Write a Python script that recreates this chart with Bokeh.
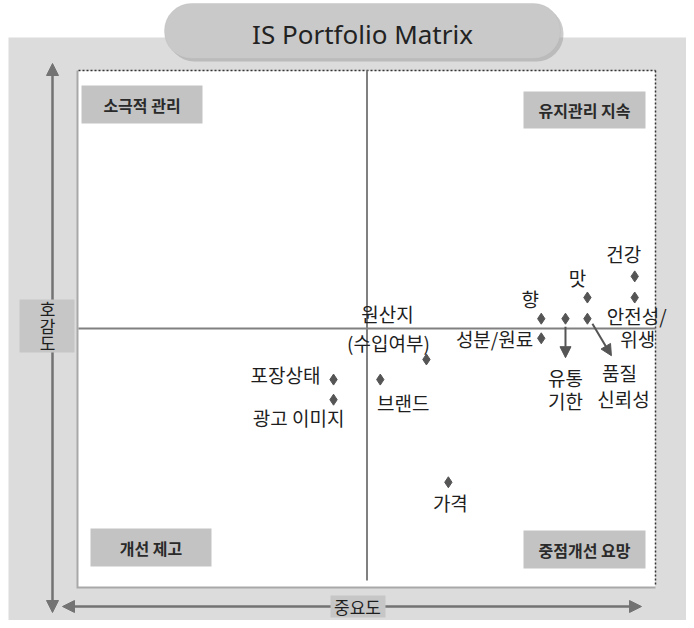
from bokeh.plotting import figure
from bokeh.models import Range1d, BoxAnnotation, Arrow, NormalHead, Label
from bokeh.core.properties import value
from bokeh.embed import file_html
from bokeh.resources import INLINE

# ---------------- data ----------------
title_text = "IS Portfolio Matrix"
x_title = "중요도"
y_title = "호감도"
quadrants = ["소극적 관리", "유지관리 지속", "개선 제고", "중점개선 요망"]
items = ["건강", "안전성/위생", "맛", "향", "유통기한", "품질 신뢰성",
         "성분/원료", "원산지(수입여부)", "포장상태", "광고 이미지", "브랜드", "가격"]
importance = [96.4, 96.4, 88.2, 80.2, 84.4, 88.2, 80.2, 60.3, 44.2, 44.2, 52.3, 64.1]
favorability = [60.1, 56.0, 56.0, 51.9, 51.9, 51.9, 48.1, 44.0, 40.1, 36.2, 40.1, 20.2]
x_mid = 50
y_mid = 50
x_lim = (0, 100)
y_lim = (0, 100)

# ---------------- layout (picture pixels) ----------------
W, H = 686, 620
OFF = 0
FL, FR, FT, FB = 78, 655, 70, 586
sx = (FR - FL) / (x_lim[1] - x_lim[0])
sy = (FB - FT) / (y_lim[1] - y_lim[0])


def X(px):
    return x_lim[0] + (px - FL) / sx


def Y(py):
    return y_lim[0] + (FB - py) / sy


def DX(dpx):
    return dpx / sx


def DY(dpy):
    return -dpy / sy


FONT = value("Noto Sans CJK KR")
TXT = "#1e1e1e"

p = figure(width=W, height=H,
           x_range=Range1d(X(OFF), X(OFF + W)),
           y_range=Range1d(Y(OFF + H), Y(OFF)),
           output_backend="svg", toolbar_location=None,
           x_axis_location=None, y_axis_location=None,
           min_border=0, outline_line_color=None,
           background_fill_color="white", border_fill_color="white")
p.xgrid.visible = False
p.ygrid.visible = False

# gray panel
p.quad(left=X(8), right=X(700), top=Y(37), bottom=Y(640),
       fill_color="#dcdcdc", line_color=None)
# white plotting panel with shadowed left/bottom border
p.quad(left=X(FL - 2), right=X(FR), top=Y(FT), bottom=Y(FB + 2),
       fill_color="#a8a8a8", line_color=None)
p.quad(left=x_lim[0], right=x_lim[1], top=y_lim[1], bottom=y_lim[0],
       fill_color="white", line_color=None)
p.segment(x0=[x_lim[0], x_lim[1]], y0=[y_lim[1], y_lim[1]],
          x1=[x_lim[1], x_lim[1]], y1=[y_lim[1], y_lim[0]],
          line_color="#333333", line_width=1.5, line_dash="2 2")

# quadrant label boxes
qb_left = [X(81), X(523), X(90), X(523)]
qb_right = [X(202), X(645), X(211), X(645)]
qb_top = [Y(85), Y(91), Y(528), Y(530)]
qb_bottom = [Y(123), Y(128), Y(566), Y(568)]
p.quad(left=qb_left, right=qb_right, top=qb_top, bottom=qb_bottom,
       fill_color="#c3c3c3", line_color=None)
p.text(x=[(a + b) / 2 for a, b in zip(qb_left, qb_right)],
       y=[(a + b) / 2 for a, b in zip(qb_top, qb_bottom)],
       text=quadrants, text_font=FONT, text_font_size="16px",
       text_font_style="bold",
       text_color="#2a2a2a", text_align="center", text_baseline="middle")

# dividing lines
p.segment(x0=[x_mid, x_lim[0]], y0=[Y(580), y_mid],
          x1=[x_mid, x_lim[1]], y1=[y_lim[1], y_mid],
          line_color="#808080", line_width=2)

# points
p.scatter(x=importance, y=favorability, marker="diamond", size=11,
          color="#555555")

# point labels: (item index, text, dx px, dy px, align)
label_layout = [
    (0, "건강", -11, -23, "center"),
    (1, "안전성/", 2, 18, "center"),
    (1, "위생", 3, 41, "center"),
    (2, "맛", -10, -20, "center"),
    (3, "향", -11, -20, "center"),
    (4, "유통", 0, 59, "center"),
    (4, "기한", 0, 82, "center"),
    (5, "품질", 32, 54, "center"),
    (5, "신뢰성", 36, 80, "center"),
    (6, "성분/원료", -8, 0, "right"),
    (7, "원산지", -39, -46, "center"),
    (7, "(수입여부)", -38, -17, "center"),
    (8, "포장상태", -13, -5, "right"),
    (9, "광고 이미지", -35, 18, "center"),
    (10, "브랜드", 23, 23, "center"),
    (11, "가격", 2, 20, "center"),
]
for align in ("center", "right"):
    rows = [r for r in label_layout if r[4] == align]
    p.text(x=[importance[r[0]] + DX(r[2]) for r in rows],
           y=[favorability[r[0]] + DY(r[3]) for r in rows],
           text=[r[1] for r in rows], text_font=FONT, text_font_size="19px",
           text_color=TXT, text_align=align, text_baseline="middle")

# pointer arrows
for idx, d0, d1 in [(4, (0, 8), (0, 39)), (5, (5, 5), (24, 37))]:
    p.add_layout(Arrow(
        x_start=importance[idx] + DX(d0[0]), y_start=favorability[idx] + DY(d0[1]),
        x_end=importance[idx] + DX(d1[0]), y_end=favorability[idx] + DY(d1[1]),
        line_color="#555555", line_width=2,
        end=NormalHead(size=11, fill_color="#555555", line_color="#555555")))

# axis arrows
AX = "#737373"
p.add_layout(Arrow(x_start=X(52), y_start=Y(612), x_end=X(52), y_end=Y(63),
                   line_color=AX, line_width=2.5,
                   start=NormalHead(size=12, fill_color=AX, line_color=AX),
                   end=NormalHead(size=12, fill_color=AX, line_color=AX)))
p.add_layout(Arrow(x_start=X(62), y_start=Y(606), x_end=X(641), y_end=Y(606),
                   line_color=AX, line_width=2.5,
                   start=NormalHead(size=12, fill_color=AX, line_color=AX),
                   end=NormalHead(size=12, fill_color=AX, line_color=AX)))

# axis titles
p.add_layout(BoxAnnotation(left=X(330), right=X(385), top=Y(595), bottom=Y(617),
                           fill_color="#c6c6c6", fill_alpha=1, line_color=None))
p.add_layout(Label(x=X(357), y=Y(606), text=x_title, text_font="Noto Sans CJK KR",
                   text_font_size="17px", text_color=TXT, text_align="center",
                   text_baseline="middle"))
p.add_layout(BoxAnnotation(left=X(19), right=X(74), top=Y(299), bottom=Y(352),
                           fill_color="#c6c6c6", fill_alpha=1, line_color=None))
for k, ch in enumerate(y_title):
    p.add_layout(Label(x=X(47), y=Y(308 + 17 * k), text=ch,
                       text_font="Noto Sans CJK KR", text_font_size="17px",
                       text_color=TXT, text_align="center", text_baseline="middle"))

# title pill
p.add_layout(BoxAnnotation(left=X(167), right=X(563), top=Y(6), bottom=Y(61),
                           border_radius=27, fill_color="#9a9a9a", fill_alpha=0.5,
                           line_color=None))
p.add_layout(BoxAnnotation(left=X(164), right=X(560), top=Y(3), bottom=Y(58),
                           border_radius=27, fill_color="#c9c9c9", fill_alpha=1,
                           line_color="#b4b4b4", line_width=1))
p.add_layout(Label(x=X(362), y=Y(33), text=title_text, text_font="Noto Sans",
                   text_font_size="26px", text_color="#222222", text_align="center",
                   text_baseline="middle"))

open("out.html", "w").write(file_html(p, INLINE))
